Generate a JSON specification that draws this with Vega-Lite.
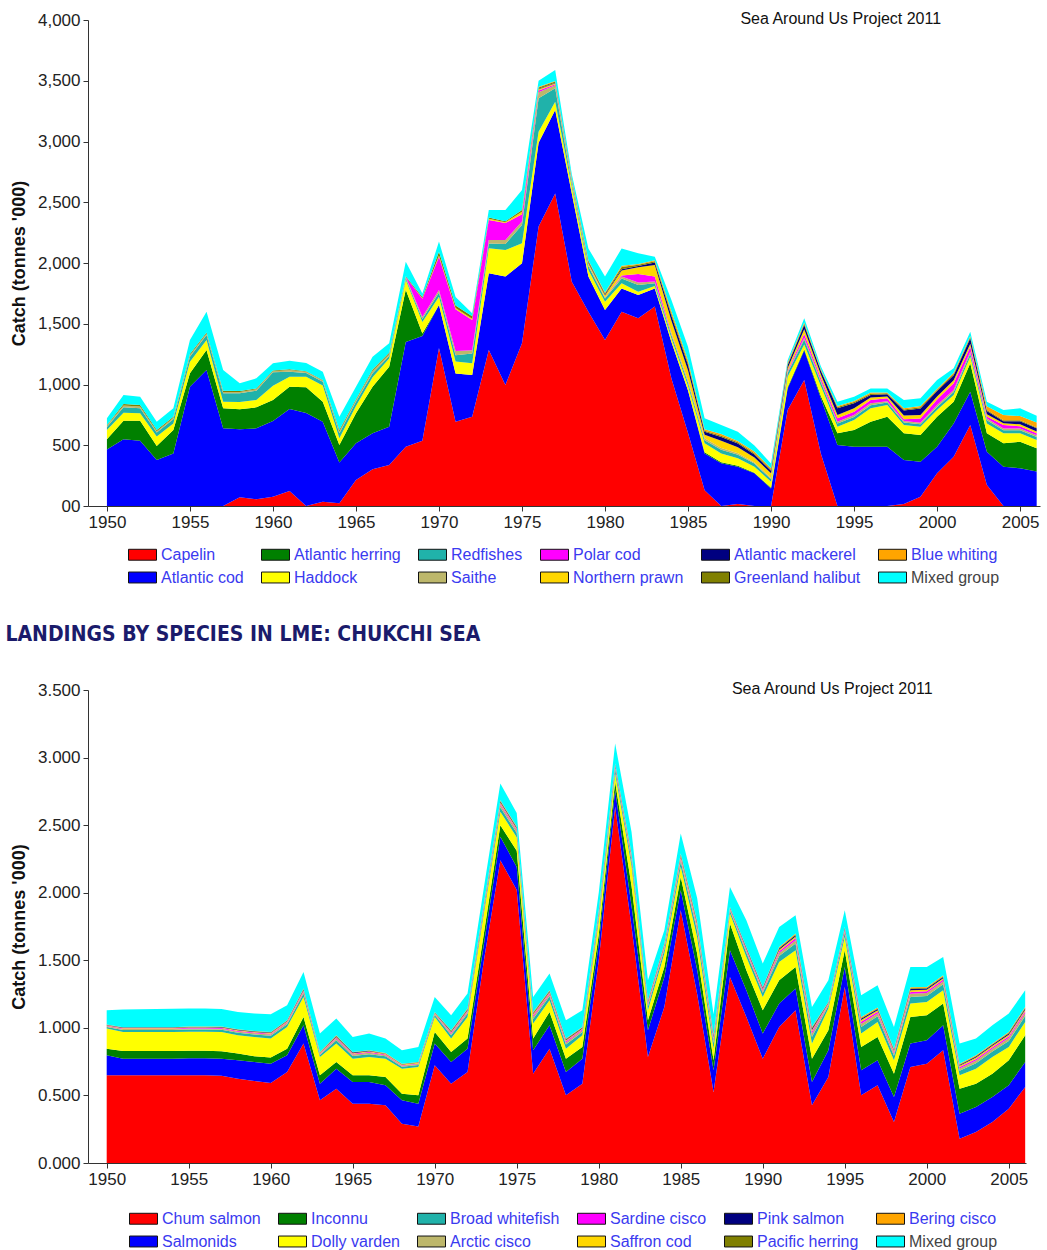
{
"$schema":"https://vega.github.io/schema/vega-lite/v6.json",
"padding":{"left":5,"top":10,"right":5,"bottom":0},
"background":"white",
"spacing":38,
"config":{"view":{"stroke":null},
 "axis":{"grid":false,"domainColor":"#333","tickColor":"#333","labelFont":"Liberation Sans","labelFontSize":17,"labelColor":"#222","titleFont":"Liberation Sans","titleFontSize":18,"titleFontWeight":"bold","titleColor":"#111","tickSize":5,"labelPadding":3,"labelFlush":false}},
"resolve":{"scale":{"color":"independent","x":"independent","y":"independent"}},
"datasets":{
"n1":[{"code":"C","species":"Capelin","ord":1},{"code":"A","species":"Atlantic cod","ord":2},{"code":"H","species":"Atlantic herring","ord":3},{"code":"D","species":"Haddock","ord":4},{"code":"R","species":"Redfishes","ord":5},{"code":"S","species":"Saithe","ord":6},{"code":"P","species":"Polar cod","ord":7},{"code":"N","species":"Northern prawn","ord":8},{"code":"M","species":"Atlantic mackerel","ord":9},{"code":"G","species":"Greenland halibut","ord":10},{"code":"B","species":"Blue whiting","ord":11},{"code":"X","species":"Mixed group","ord":12}],
"n2":[{"code":"C","species":"Chum salmon","ord":1},{"code":"A","species":"Salmonids","ord":2},{"code":"H","species":"Inconnu","ord":3},{"code":"D","species":"Dolly varden","ord":4},{"code":"R","species":"Broad whitefish","ord":5},{"code":"S","species":"Arctic cisco","ord":6},{"code":"P","species":"Sardine cisco","ord":7},{"code":"N","species":"Saffron cod","ord":8},{"code":"M","species":"Pink salmon","ord":9},{"code":"G","species":"Pacific herring","ord":10},{"code":"B","species":"Bering cisco","ord":11},{"code":"X","species":"Mixed group","ord":12}],
"top":[
{"yr":1950,"C":0,"A":466,"H":83,"D":76,"R":25,"S":12,"P":0,"N":0,"M":0,"G":5,"B":0,"X":55},
{"yr":1951,"C":0,"A":549,"H":153,"D":66,"R":44,"S":15,"P":0,"N":0,"M":0,"G":13,"B":0,"X":74},
{"yr":1952,"C":0,"A":538,"H":164,"D":61,"R":41,"S":15,"P":0,"N":0,"M":0,"G":12,"B":0,"X":69},
{"yr":1953,"C":0,"A":379,"H":115,"D":77,"R":33,"S":12,"P":0,"N":0,"M":0,"G":9,"B":0,"X":69},
{"yr":1954,"C":0,"A":433,"H":192,"D":55,"R":33,"S":13,"P":0,"N":0,"M":0,"G":9,"B":0,"X":69},
{"yr":1955,"C":0,"A":982,"H":110,"D":96,"R":41,"S":12,"P":0,"N":0,"M":0,"G":10,"B":0,"X":115},
{"yr":1956,"C":0,"A":1119,"H":165,"D":82,"R":41,"S":12,"P":0,"N":0,"M":0,"G":8,"B":0,"X":172},
{"yr":1957,"C":0,"A":639,"H":165,"D":55,"R":68,"S":12,"P":0,"N":0,"M":0,"G":10,"B":0,"X":170},
{"yr":1958,"C":71,"A":560,"H":165,"D":60,"R":71,"S":12,"P":0,"N":0,"M":0,"G":7,"B":0,"X":64},
{"yr":1959,"C":55,"A":584,"H":173,"D":60,"R":77,"S":12,"P":0,"N":0,"M":0,"G":7,"B":0,"X":83},
{"yr":1960,"C":77,"A":623,"H":172,"D":118,"R":110,"S":10,"P":0,"N":0,"M":0,"G":5,"B":0,"X":60},
{"yr":1961,"C":123,"A":675,"H":184,"D":82,"R":41,"S":14,"P":0,"N":0,"M":0,"G":7,"B":0,"X":69},
{"yr":1962,"C":0,"A":765,"H":212,"D":87,"R":30,"S":11,"P":0,"N":0,"M":0,"G":5,"B":0,"X":67},
{"yr":1963,"C":36,"A":658,"H":164,"D":134,"R":30,"S":10,"P":0,"N":0,"M":0,"G":5,"B":0,"X":68},
{"yr":1964,"C":22,"A":335,"H":145,"D":55,"R":41,"S":15,"P":0,"N":0,"M":0,"G":12,"B":0,"X":110},
{"yr":1965,"C":214,"A":302,"H":247,"D":60,"R":36,"S":12,"P":0,"N":0,"M":0,"G":7,"B":0,"X":104},
{"yr":1966,"C":302,"A":296,"H":384,"D":77,"R":33,"S":22,"P":0,"N":0,"M":0,"G":10,"B":0,"X":105},
{"yr":1967,"C":337,"A":316,"H":494,"D":68,"R":20,"S":16,"P":0,"N":0,"M":0,"G":10,"B":0,"X":78},
{"yr":1968,"C":488,"A":862,"H":430,"D":80,"R":15,"S":10,"P":0,"N":0,"M":0,"G":5,"B":0,"X":120},
{"yr":1969,"C":538,"A":862,"H":20,"D":95,"R":25,"S":15,"P":150,"N":5,"M":0,"G":10,"B":0,"X":30},
{"yr":1970,"C":1300,"A":354,"H":0,"D":69,"R":35,"S":20,"P":274,"N":10,"M":0,"G":31,"B":0,"X":83},
{"yr":1971,"C":694,"A":396,"H":0,"D":100,"R":50,"S":35,"P":345,"N":10,"M":0,"G":20,"B":0,"X":70},
{"yr":1972,"C":735,"A":343,"H":0,"D":96,"R":82,"S":25,"P":250,"N":10,"M":0,"G":20,"B":0,"X":25},
{"yr":1973,"C":1284,"A":631,"H":0,"D":206,"R":40,"S":28,"P":165,"N":10,"M":0,"G":10,"B":0,"X":62},
{"yr":1974,"C":996,"A":892,"H":0,"D":219,"R":50,"S":32,"P":140,"N":7,"M":0,"G":7,"B":0,"X":93},
{"yr":1975,"C":1339,"A":658,"H":0,"D":165,"R":150,"S":30,"P":60,"N":20,"M":0,"G":15,"B":0,"X":163},
{"yr":1976,"C":2300,"A":690,"H":0,"D":90,"R":275,"S":50,"P":15,"N":10,"M":5,"G":10,"B":5,"X":50},
{"yr":1977,"C":2573,"A":686,"H":0,"D":69,"R":110,"S":25,"P":8,"N":8,"M":5,"G":10,"B":4,"X":90},
{"yr":1978,"C":1846,"A":727,"H":0,"D":55,"R":25,"S":15,"P":5,"N":10,"M":5,"G":8,"B":4,"X":30},
{"yr":1979,"C":1599,"A":289,"H":0,"D":55,"R":30,"S":15,"P":0,"N":12,"M":8,"G":10,"B":5,"X":97},
{"yr":1980,"C":1366,"A":247,"H":0,"D":69,"R":25,"S":12,"P":0,"N":15,"M":8,"G":10,"B":5,"X":131},
{"yr":1981,"C":1599,"A":192,"H":0,"D":42,"R":40,"S":15,"P":10,"N":40,"M":10,"G":20,"B":10,"X":142},
{"yr":1982,"C":1545,"A":192,"H":0,"D":27,"R":55,"S":20,"P":70,"N":55,"M":12,"G":10,"B":5,"X":89},
{"yr":1983,"C":1641,"A":150,"H":0,"D":20,"R":22,"S":15,"P":40,"N":96,"M":20,"G":10,"B":8,"X":30},
{"yr":1984,"C":1050,"A":300,"H":0,"D":30,"R":25,"S":15,"P":5,"N":100,"M":40,"G":20,"B":20,"X":90},
{"yr":1985,"C":600,"A":350,"H":0,"D":40,"R":25,"S":15,"P":5,"N":80,"M":45,"G":20,"B":20,"X":111},
{"yr":1986,"C":130,"A":303,"H":10,"D":73,"R":25,"S":16,"P":0,"N":30,"M":25,"G":8,"B":12,"X":90},
{"yr":1987,"C":0,"A":351,"H":10,"D":72,"R":30,"S":15,"P":0,"N":60,"M":30,"G":10,"B":14,"X":75},
{"yr":1988,"C":16,"A":308,"H":8,"D":60,"R":30,"S":12,"P":0,"N":50,"M":30,"G":10,"B":12,"X":76},
{"yr":1989,"C":0,"A":269,"H":5,"D":50,"R":25,"S":10,"P":0,"N":40,"M":25,"G":10,"B":14,"X":50},
{"yr":1990,"C":0,"A":145,"H":5,"D":50,"R":20,"S":10,"P":0,"N":40,"M":20,"G":8,"B":12,"X":40},
{"yr":1991,"C":790,"A":178,"H":10,"D":86,"R":30,"S":10,"P":10,"N":20,"M":25,"G":10,"B":10,"X":21},
{"yr":1992,"C":1037,"A":243,"H":10,"D":40,"R":40,"S":15,"P":30,"N":40,"M":35,"G":10,"B":10,"X":35},
{"yr":1993,"C":433,"A":453,"H":20,"D":82,"R":30,"S":15,"P":20,"N":30,"M":30,"G":5,"B":10,"X":22},
{"yr":1994,"C":0,"A":502,"H":96,"D":55,"R":25,"S":16,"P":28,"N":27,"M":55,"G":10,"B":10,"X":35},
{"yr":1995,"C":0,"A":488,"H":137,"D":83,"R":25,"S":16,"P":27,"N":28,"M":41,"G":10,"B":10,"X":35},
{"yr":1996,"C":0,"A":488,"H":206,"D":110,"R":25,"S":16,"P":27,"N":20,"M":22,"G":10,"B":10,"X":34},
{"yr":1997,"C":0,"A":488,"H":247,"D":96,"R":20,"S":12,"P":23,"N":15,"M":18,"G":10,"B":5,"X":34},
{"yr":1998,"C":16,"A":363,"H":219,"D":69,"R":20,"S":12,"P":15,"N":30,"M":41,"G":10,"B":10,"X":67},
{"yr":1999,"C":77,"A":288,"H":219,"D":69,"R":20,"S":12,"P":35,"N":30,"M":53,"G":10,"B":10,"X":63},
{"yr":2000,"C":269,"A":219,"H":247,"D":55,"R":25,"S":16,"P":45,"N":25,"M":45,"G":10,"B":10,"X":71},
{"yr":2001,"C":406,"A":274,"H":179,"D":55,"R":25,"S":16,"P":55,"N":25,"M":42,"G":10,"B":10,"X":36},
{"yr":2002,"C":667,"A":274,"H":233,"D":55,"R":25,"S":16,"P":41,"N":25,"M":44,"G":10,"B":10,"X":35},
{"yr":2003,"C":173,"A":274,"H":151,"D":82,"R":25,"S":16,"P":15,"N":20,"M":25,"G":10,"B":30,"X":38},
{"yr":2004,"C":0,"A":324,"H":192,"D":82,"R":25,"S":14,"P":30,"N":15,"M":15,"G":8,"B":45,"X":40},
{"yr":2005,"C":0,"A":310,"H":219,"D":69,"R":25,"S":14,"P":20,"N":15,"M":25,"G":8,"B":35,"X":64},
{"yr":2006,"C":0,"A":283,"H":192,"D":68,"R":25,"S":14,"P":16,"N":15,"M":26,"G":8,"B":41,"X":55}
],
"bot":[
{"yr":1950,"C":0.649,"A":0.148,"H":0.049,"D":0.149,"R":0.012,"S":0.006,"P":0.004,"N":0.003,"M":0.002,"G":0.001,"B":0.002,"X":0.105},
{"yr":1951,"C":0.65,"A":0.122,"H":0.057,"D":0.141,"R":0.014,"S":0.007,"P":0.004,"N":0.004,"M":0.003,"G":0.001,"B":0.002,"X":0.13},
{"yr":1952,"C":0.65,"A":0.122,"H":0.057,"D":0.141,"R":0.014,"S":0.007,"P":0.004,"N":0.004,"M":0.003,"G":0.001,"B":0.002,"X":0.133},
{"yr":1953,"C":0.65,"A":0.122,"H":0.057,"D":0.141,"R":0.014,"S":0.007,"P":0.004,"N":0.004,"M":0.003,"G":0.001,"B":0.002,"X":0.135},
{"yr":1954,"C":0.65,"A":0.122,"H":0.057,"D":0.141,"R":0.014,"S":0.007,"P":0.004,"N":0.004,"M":0.003,"G":0.001,"B":0.002,"X":0.137},
{"yr":1955,"C":0.65,"A":0.125,"H":0.055,"D":0.142,"R":0.015,"S":0.008,"P":0.005,"N":0.004,"M":0.003,"G":0.001,"B":0.002,"X":0.133},
{"yr":1956,"C":0.65,"A":0.125,"H":0.055,"D":0.142,"R":0.015,"S":0.008,"P":0.005,"N":0.004,"M":0.003,"G":0.001,"B":0.002,"X":0.133},
{"yr":1957,"C":0.645,"A":0.127,"H":0.054,"D":0.144,"R":0.016,"S":0.008,"P":0.005,"N":0.004,"M":0.003,"G":0.002,"B":0.002,"X":0.13},
{"yr":1958,"C":0.624,"A":0.136,"H":0.05,"D":0.135,"R":0.018,"S":0.009,"P":0.005,"N":0.005,"M":0.004,"G":0.002,"B":0.002,"X":0.128},
{"yr":1959,"C":0.607,"A":0.141,"H":0.042,"D":0.143,"R":0.018,"S":0.009,"P":0.005,"N":0.004,"M":0.004,"G":0.002,"B":0.002,"X":0.129},
{"yr":1960,"C":0.592,"A":0.143,"H":0.045,"D":0.141,"R":0.02,"S":0.01,"P":0.006,"N":0.005,"M":0.004,"G":0.002,"B":0.002,"X":0.131},
{"yr":1961,"C":0.674,"A":0.123,"H":0.049,"D":0.161,"R":0.02,"S":0.01,"P":0.006,"N":0.005,"M":0.004,"G":0.002,"B":0.002,"X":0.111},
{"yr":1962,"C":0.884,"A":0.135,"H":0.062,"D":0.148,"R":0.025,"S":0.012,"P":0.007,"N":0.006,"M":0.005,"G":0.003,"B":0.004,"X":0.123},
{"yr":1963,"C":0.464,"A":0.123,"H":0.062,"D":0.136,"R":0.015,"S":0.007,"P":0.004,"N":0.004,"M":0.003,"G":0.002,"B":0.002,"X":0.136},
{"yr":1964,"C":0.55,"A":0.148,"H":0.05,"D":0.136,"R":0.024,"S":0.012,"P":0.007,"N":0.006,"M":0.005,"G":0.003,"B":0.004,"X":0.124},
{"yr":1965,"C":0.439,"A":0.161,"H":0.049,"D":0.123,"R":0.02,"S":0.01,"P":0.006,"N":0.005,"M":0.004,"G":0.002,"B":0.003,"X":0.111},
{"yr":1966,"C":0.439,"A":0.161,"H":0.049,"D":0.136,"R":0.02,"S":0.01,"P":0.006,"N":0.005,"M":0.004,"G":0.002,"B":0.002,"X":0.124},
{"yr":1967,"C":0.427,"A":0.148,"H":0.062,"D":0.135,"R":0.017,"S":0.008,"P":0.005,"N":0.004,"M":0.003,"G":0.002,"B":0.003,"X":0.107},
{"yr":1968,"C":0.291,"A":0.173,"H":0.049,"D":0.185,"R":0.015,"S":0.007,"P":0.004,"N":0.004,"M":0.003,"G":0.002,"B":0.002,"X":0.099},
{"yr":1969,"C":0.271,"A":0.168,"H":0.062,"D":0.21,"R":0.015,"S":0.007,"P":0.004,"N":0.004,"M":0.003,"G":0.002,"B":0.002,"X":0.111},
{"yr":1970,"C":0.723,"A":0.161,"H":0.086,"D":0.111,"R":0.015,"S":0.007,"P":0.004,"N":0.004,"M":0.003,"G":0.002,"B":0.002,"X":0.111},
{"yr":1971,"C":0.587,"A":0.161,"H":0.074,"D":0.099,"R":0.024,"S":0.012,"P":0.007,"N":0.006,"M":0.005,"G":0.003,"B":0.004,"X":0.111},
{"yr":1972,"C":0.674,"A":0.172,"H":0.075,"D":0.16,"R":0.025,"S":0.012,"P":0.007,"N":0.006,"M":0.005,"G":0.003,"B":0.004,"X":0.111},
{"yr":1973,"C":1.5,"A":0.12,"H":0.08,"D":0.15,"R":0.028,"S":0.014,"P":0.008,"N":0.007,"M":0.006,"G":0.003,"B":0.004,"X":0.12},
{"yr":1974,"C":2.241,"A":0.173,"H":0.086,"D":0.099,"R":0.034,"S":0.017,"P":0.01,"N":0.009,"M":0.007,"G":0.003,"B":0.006,"X":0.124},
{"yr":1975,"C":2.02,"A":0.17,"H":0.12,"D":0.1,"R":0.032,"S":0.016,"P":0.01,"N":0.008,"M":0.006,"G":0.003,"B":0.005,"X":0.1},
{"yr":1976,"C":0.661,"A":0.173,"H":0.087,"D":0.111,"R":0.034,"S":0.017,"P":0.01,"N":0.009,"M":0.007,"G":0.003,"B":0.006,"X":0.111},
{"yr":1977,"C":0.846,"A":0.173,"H":0.099,"D":0.086,"R":0.03,"S":0.015,"P":0.009,"N":0.007,"M":0.006,"G":0.003,"B":0.004,"X":0.124},
{"yr":1978,"C":0.501,"A":0.173,"H":0.098,"D":0.074,"R":0.03,"S":0.015,"P":0.009,"N":0.008,"M":0.006,"G":0.003,"B":0.004,"X":0.135},
{"yr":1979,"C":0.587,"A":0.185,"H":0.087,"D":0.086,"R":0.025,"S":0.012,"P":0.007,"N":0.006,"M":0.005,"G":0.003,"B":0.004,"X":0.123},
{"yr":1980,"C":1.5,"A":0.12,"H":0.07,"D":0.1,"R":0.032,"S":0.016,"P":0.01,"N":0.008,"M":0.006,"G":0.003,"B":0.005,"X":0.13},
{"yr":1981,"C":2.636,"A":0.123,"H":0.062,"D":0.062,"R":0.03,"S":0.015,"P":0.009,"N":0.007,"M":0.006,"G":0.003,"B":0.004,"X":0.148},
{"yr":1982,"C":1.75,"A":0.15,"H":0.15,"D":0.15,"R":0.036,"S":0.018,"P":0.011,"N":0.009,"M":0.007,"G":0.004,"B":0.005,"X":0.16},
{"yr":1983,"C":0.785,"A":0.197,"H":0.074,"D":0.074,"R":0.03,"S":0.015,"P":0.009,"N":0.007,"M":0.006,"G":0.003,"B":0.004,"X":0.148},
{"yr":1984,"C":1.155,"A":0.222,"H":0.074,"D":0.099,"R":0.03,"S":0.015,"P":0.009,"N":0.007,"M":0.006,"G":0.003,"B":0.004,"X":0.099},
{"yr":1985,"C":1.871,"A":0.148,"H":0.098,"D":0.075,"R":0.039,"S":0.02,"P":0.012,"N":0.01,"M":0.008,"G":0.004,"B":0.005,"X":0.148},
{"yr":1986,"C":1.25,"A":0.18,"H":0.12,"D":0.12,"R":0.048,"S":0.024,"P":0.014,"N":0.012,"M":0.01,"G":0.005,"B":0.007,"X":0.17},
{"yr":1987,"C":0.526,"A":0.16,"H":0.074,"D":0.086,"R":0.042,"S":0.021,"P":0.012,"N":0.01,"M":0.008,"G":0.004,"B":0.007,"X":0.15},
{"yr":1988,"C":1.377,"A":0.198,"H":0.197,"D":0.074,"R":0.02,"S":0.01,"P":0.006,"N":0.005,"M":0.004,"G":0.002,"B":0.002,"X":0.148},
{"yr":1989,"C":1.081,"A":0.197,"H":0.148,"D":0.099,"R":0.03,"S":0.015,"P":0.009,"N":0.007,"M":0.006,"G":0.003,"B":0.004,"X":0.198},
{"yr":1990,"C":0.772,"A":0.186,"H":0.172,"D":0.099,"R":0.03,"S":0.015,"P":0.009,"N":0.007,"M":0.006,"G":0.003,"B":0.004,"X":0.173},
{"yr":1991,"C":1.007,"A":0.173,"H":0.172,"D":0.136,"R":0.044,"S":0.022,"P":0.013,"N":0.011,"M":0.009,"G":0.005,"B":0.007,"X":0.148},
{"yr":1992,"C":1.13,"A":0.161,"H":0.16,"D":0.124,"R":0.049,"S":0.025,"P":0.015,"N":0.012,"M":0.01,"G":0.005,"B":0.007,"X":0.136},
{"yr":1993,"C":0.427,"A":0.173,"H":0.172,"D":0.112,"R":0.049,"S":0.025,"P":0.015,"N":0.012,"M":0.01,"G":0.005,"B":0.007,"X":0.148},
{"yr":1994,"C":0.637,"A":0.197,"H":0.148,"D":0.161,"R":0.02,"S":0.01,"P":0.006,"N":0.005,"M":0.004,"G":0.002,"B":0.002,"X":0.16},
{"yr":1995,"C":1.303,"A":0.148,"H":0.124,"D":0.098,"R":0.03,"S":0.015,"P":0.009,"N":0.007,"M":0.006,"G":0.003,"B":0.004,"X":0.124},
{"yr":1996,"C":0.501,"A":0.185,"H":0.173,"D":0.099,"R":0.049,"S":0.024,"P":0.015,"N":0.012,"M":0.01,"G":0.005,"B":0.007,"X":0.161},
{"yr":1997,"C":0.575,"A":0.185,"H":0.173,"D":0.111,"R":0.042,"S":0.021,"P":0.013,"N":0.011,"M":0.008,"G":0.004,"B":0.007,"X":0.165},
{"yr":1998,"C":0.304,"A":0.185,"H":0.172,"D":0.099,"R":0.034,"S":0.017,"P":0.01,"N":0.009,"M":0.007,"G":0.003,"B":0.006,"X":0.161},
{"yr":1999,"C":0.711,"A":0.173,"H":0.197,"D":0.099,"R":0.048,"S":0.024,"P":0.014,"N":0.012,"M":0.01,"G":0.005,"B":0.007,"X":0.151},
{"yr":2000,"C":0.735,"A":0.173,"H":0.185,"D":0.099,"R":0.044,"S":0.022,"P":0.013,"N":0.011,"M":0.009,"G":0.005,"B":0.007,"X":0.148},
{"yr":2001,"C":0.834,"A":0.185,"H":0.161,"D":0.098,"R":0.044,"S":0.022,"P":0.013,"N":0.011,"M":0.009,"G":0.005,"B":0.007,"X":0.136},
{"yr":2002,"C":0.18,"A":0.185,"H":0.185,"D":0.099,"R":0.034,"S":0.017,"P":0.01,"N":0.009,"M":0.007,"G":0.003,"B":0.006,"X":0.149},
{"yr":2003,"C":0.23,"A":0.185,"H":0.172,"D":0.111,"R":0.04,"S":0.02,"P":0.012,"N":0.01,"M":0.008,"G":0.004,"B":0.005,"X":0.124},
{"yr":2004,"C":0.304,"A":0.185,"H":0.172,"D":0.124,"R":0.04,"S":0.02,"P":0.012,"N":0.01,"M":0.008,"G":0.004,"B":0.005,"X":0.135},
{"yr":2005,"C":0.402,"A":0.173,"H":0.185,"D":0.099,"R":0.044,"S":0.022,"P":0.013,"N":0.011,"M":0.009,"G":0.005,"B":0.007,"X":0.136},
{"yr":2006,"C":0.563,"A":0.185,"H":0.197,"D":0.099,"R":0.044,"S":0.022,"P":0.013,"N":0.011,"M":0.009,"G":0.005,"B":0.007,"X":0.123}
]},
"vconcat":[
{"width":952,"height":486,
 "layer":[
  {"data":{"name":"top"},
   "transform":[{"fold":["C","A","H","D","R","S","P","N","M","G","B","X"],"as":["code","v"]},
    {"lookup":"code","from":{"data":{"name":"n1"},"key":"code","fields":["species","ord"]}}],
   "mark":{"type":"area","interpolate":"linear"},
   "encoding":{
    "x":{"field":"yr","type":"quantitative","scale":{"domain":[1948.86,2006.2],"nice":false,"zero":false},"axis":{"title":null,"values":[1950,1955,1960,1965,1970,1975,1980,1985,1990,1995,2000,2005],"format":"d"}},
    "y":{"field":"v","type":"quantitative","stack":"zero","scale":{"domain":[0,4000],"nice":false},"axis":{"title":"Catch (tonnes '000)","values":[0,500,1000,1500,2000,2500,3000,3500,4000],"labelExpr":"datum.value === 0 ? '00' : format(datum.value, ',')","titlePadding":9}},
    "color":{"field":"species","type":"nominal","scale":{"domain":["Capelin","Atlantic herring","Redfishes","Polar cod","Atlantic mackerel","Blue whiting","Atlantic cod","Haddock","Saithe","Northern prawn","Greenland halibut","Mixed group"],"range":["#ff0000","#008000","#20b2aa","#ff00ff","#000080","#ffa500","#0000ff","#ffff00","#bdb76b","#ffd700","#808000","#00ffff"]},
     "legend":{"orient":"none","legendX":40,"legendY":520,"columns":6,"direction":"horizontal","title":null,"symbolType":"M-1,-0.39H1V0.39H-1Z","symbolSize":784,"symbolStrokeColor":"#111","symbolStrokeWidth":1,"symbolOpacity":1,"labelFont":"Liberation Sans","labelFontSize":16,"labelColor":"#3a3af0","labelOffset":4,"labelLimit":300,"columnPadding":15,"rowPadding":0,
      "encode":{"labels":{"update":{"fill":{"signal":"datum.label === 'Mixed group' ? '#444444' : '#3a3af0'"}}}}}},
    "order":{"field":"ord","type":"quantitative"}
   }},
  {"data":{"values":[{}]},
   "mark":{"type":"text","font":"Liberation Sans","fontSize":16,"color":"#111"},
   "encoding":{"x":{"datum":1994.2,"type":"quantitative"},"y":{"datum":4010,"type":"quantitative"},"text":{"value":"Sea Around Us Project 2011"}}}
 ]},
{"width":938,"height":473,
 "title":{"text":"LANDINGS BY SPECIES IN LME: CHUKCHI SEA","anchor":"start","frame":"bounds","font":"DejaVu Sans Condensed","fontSize":21,"fontWeight":"bold","color":"#1b1b6b","offset":36,"dx":-5},
 "layer":[
  {"data":{"name":"bot"},
   "transform":[{"fold":["C","A","H","D","R","S","P","N","M","G","B","X"],"as":["code","v"]},
    {"lookup":"code","from":{"data":{"name":"n2"},"key":"code","fields":["species","ord"]}}],
   "mark":{"type":"area","interpolate":"linear"},
   "encoding":{
    "x":{"field":"yr","type":"quantitative","scale":{"domain":[1948.86,2006.05],"nice":false,"zero":false},"axis":{"title":null,"values":[1950,1955,1960,1965,1970,1975,1980,1985,1990,1995,2000,2005],"format":"d"}},
    "y":{"field":"v","type":"quantitative","stack":"zero","scale":{"domain":[0,3.5],"nice":false},"axis":{"title":"Catch (tonnes '000)","values":[0,0.5,1,1.5,2,2.5,3,3.5],"format":".3f","titlePadding":9}},
    "color":{"field":"species","type":"nominal","scale":{"domain":["Chum salmon","Inconnu","Broad whitefish","Sardine cisco","Pink salmon","Bering cisco","Salmonids","Dolly varden","Arctic cisco","Saffron cod","Pacific herring","Mixed group"],"range":["#ff0000","#008000","#20b2aa","#ff00ff","#000080","#ffa500","#0000ff","#ffff00","#bdb76b","#ffd700","#808000","#00ffff"]},
     "legend":{"orient":"none","legendX":41,"legendY":514,"columns":6,"direction":"horizontal","title":null,"symbolType":"M-1,-0.39H1V0.39H-1Z","symbolSize":784,"symbolStrokeColor":"#111","symbolStrokeWidth":1,"symbolOpacity":1,"labelFont":"Liberation Sans","labelFontSize":16,"labelColor":"#3a3af0","labelOffset":4,"labelLimit":300,"columnPadding":15,"rowPadding":0,
      "encode":{"labels":{"update":{"fill":{"signal":"datum.label === 'Mixed group' ? '#444444' : '#3a3af0'"}}}}}},
    "order":{"field":"ord","type":"quantitative"}
   }},
  {"data":{"values":[{}]},
   "mark":{"type":"text","font":"Liberation Sans","fontSize":16,"color":"#111"},
   "encoding":{"x":{"datum":1994.24,"type":"quantitative"},"y":{"datum":3.505,"type":"quantitative"},"text":{"value":"Sea Around Us Project 2011"}}}
 ]}
]
}
